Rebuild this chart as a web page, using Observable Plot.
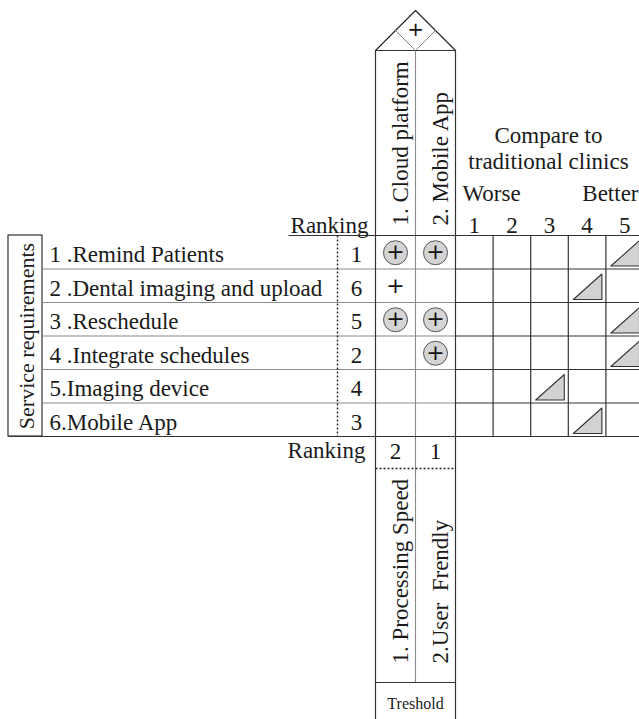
<!DOCTYPE html>
<html>
<head>
<meta charset="utf-8">
<script src="https://cdn.jsdelivr.net/npm/d3@7"></script>
<script src="https://cdn.jsdelivr.net/npm/@observablehq/plot@0.6"></script>
<style>
  html, body { margin: 0; padding: 0; background: #fff; }
  svg { display: block; }
</style>
</head>
<body>
<script>
// ---------------- data ----------------
const requirements = [
  "1 .Remind Patients",
  "2 .Dental imaging and upload",
  "3 .Reschedule",
  "4 .Integrate schedules",
  "5.Imaging device",
  "6.Mobile App"
];
const requirementRanking = [1, 6, 5, 2, 4, 3];
const technicalFeatures = ["1. Cloud platform", "2. Mobile App"];
// "strong" = circled plus, "weak" = plain plus, null = empty
const relationships = [
  ["strong", "strong"],
  ["weak", null],
  ["strong", "strong"],
  [null, "strong"],
  [null, null],
  [null, null]
];
const roofCorrelation = "+";
const comparisonLevels = [1, 2, 3, 4, 5];
const comparisonScores = [5, 4, 5, 5, 3, 4];
const comparisonTitle = ["Compare to", "traditional clinics"];
const comparisonLow = "Worse";
const comparisonHigh = "Better";
const technicalRanking = [2, 1];
const targetValues = ["1. Processing Speed", "2.User  Frendly"];
const sideTitle = "Service requirements";
const rankingLabel = "Ranking";
const footerLabel = "Treshold";

// ---------------- layout ----------------
const W = 639, H = 719;
const FONT = "Liberation Serif";
const FS = 23;
const rowTop = 235, rowH = 33.5, nRows = requirements.length;
const rowBottom = rowTop + rowH * nRows;
const boxL = 8, boxR = 42, textX = 49, dotX = 337, rankX = 356;
const colL = 375, colW = 40;
const colR = colL + colW * technicalFeatures.length;
const cmpW = 37.6;
const roofBase = 50;
const rankBottom = 468, targetBottom = 682;
const mid = 0.32 * FS; // Plot's middle line anchor offset to baseline

const rowTopOf = i => rowTop + i * rowH;
const rowMid = i => rowTop + (i + 0.5) * rowH;
const colMid = j => colL + (j + 0.5) * colW;
const cmpLeft = k => colR + (k - 1) * cmpW;

// line segments
const dark = [], gray = [], dotted = [];
const seg = (a, x1, y1, x2, y2) => a.push({x1, y1, x2, y2});
seg(dark, colL, roofBase, colR, roofBase);
seg(dark, 288, rowTop, W, rowTop);
for (let i = 1; i < nRows; i++) {
  seg(gray, boxR, rowTopOf(i), colR, rowTopOf(i));
  seg(dark, colR, rowTopOf(i), W, rowTopOf(i));
}
seg(dark, boxL, rowBottom, W, rowBottom);
seg(dark, colL, targetBottom, colR, targetBottom);
seg(dark, colL, roofBase, colL, H);
seg(dark, colR, roofBase, colR, H);
seg(gray, colL + colW, roofBase, colL + colW, targetBottom);
comparisonLevels.slice(1).forEach(k => seg(dark, cmpLeft(k), rowTop, cmpLeft(k), rowBottom));
seg(dotted, dotX, rowTop, dotX, rowBottom);
seg(dotted, colL, rankBottom, colR, rankBottom);

// roof
const roofPts = [
  {x: colL, y: roofBase},
  {x: colL + colW, y: roofBase - colW},
  {x: colR, y: roofBase}
];
const diamondPts = [
  {x: colL + colW / 2, y: roofBase - colW / 2},
  {x: colL + colW, y: roofBase},
  {x: colR - colW / 2, y: roofBase - colW / 2}
];

// relationship cells
const relCells = [];
relationships.forEach((row, i) => row.forEach((r, j) => { if (r) relCells.push({i, j, r}); }));

// triangles for comparison
const triPts = [];
comparisonScores.forEach((s, i) => {
  const l = cmpLeft(s), r = l + cmpW, t = rowTopOf(i), b = t + rowH;
  triPts.push({id: i, x: l + 5, y: b - 3}, {id: i, x: r - 4, y: t + 5},
              {id: i, x: r - 4, y: b - 3}, {id: i, x: l + 5, y: b - 3});
});

const txt = {fontFamily: FONT, fontSize: FS, fill: "#1a1a1a"};

const chart = Plot.plot({
  width: W, height: H,
  margin: 0,
  x: {domain: [0, W], range: [0, W], axis: null},
  y: {domain: [0, H], range: [0, H], axis: null},
  style: {fontFamily: FONT, background: "#fff"},
  marks: [
    Plot.rect([{}], {x1: () => boxL, x2: () => boxR, y1: () => rowTop, y2: () => rowBottom,
      fill: "none", stroke: "#333", strokeWidth: 1.2}),
    Plot.link(gray, {x1: "x1", y1: "y1", x2: "x2", y2: "y2", stroke: "#8a8a8a", strokeWidth: 1.1}),
    Plot.link(dark, {x1: "x1", y1: "y1", x2: "x2", y2: "y2", stroke: "#333", strokeWidth: 1.2}),
    Plot.link(dotted, {x1: "x1", y1: "y1", x2: "x2", y2: "y2", stroke: "#222", strokeWidth: 1.4, strokeDasharray: "2,2"}),
    Plot.line(roofPts, {x: "x", y: "y", stroke: "#222", strokeWidth: 1.1}),
    Plot.line(diamondPts, {x: "x", y: "y", stroke: "#888", strokeWidth: 1}),
    Plot.text([roofCorrelation], {x: () => colL + colW, y: () => roofBase - colW / 2 - 1, text: d => d,
      fontFamily: "DejaVu Sans", fontSize: 20, fill: "#111"}),

    // side title
    Plot.text([sideTitle], {x: () => (boxL + boxR) / 2 + 1, y: () => (rowTop + rowBottom) / 2, text: d => d,
      rotate: -90, ...txt, fontSize: 22}),
    // requirement labels
    Plot.text(requirements, {x: () => textX, y: (d, i) => rowMid(i) + 2.8, text: d => d, textAnchor: "start", ...txt}),
    Plot.text(requirementRanking, {x: () => rankX, y: (d, i) => rowMid(i) + 2.8, text: d => String(d), ...txt}),
    Plot.text([rankingLabel], {x: () => colL - 7, y: () => rowTop - 3 - mid, text: d => d, textAnchor: "end", ...txt}),

    // technical features (vertical headers)
    Plot.text(technicalFeatures, {x: (d, j) => colMid(j) + 5, y: () => rowTop - 10, text: d => d,
      rotate: -90, textAnchor: "start", ...txt}),

    // relationships
    Plot.dot(relCells.filter(c => c.r === "strong"), {x: c => colMid(c.j), y: c => rowMid(c.i) + 0.5, r: 12,
      fill: "#d4d4d4", stroke: "#555", strokeWidth: 1}),
    Plot.text(relCells, {x: c => colMid(c.j), y: c => rowMid(c.i), text: () => "+",
      fontFamily: "DejaVu Sans", fontSize: 22, fill: "#111"}),

    // comparison header
    Plot.text(comparisonTitle, {x: () => 548, y: (d, i) => 142 + i * 26 - mid, text: d => d, ...txt}),
    Plot.text([comparisonLow], {x: () => colR + 7, y: () => 200 - mid, text: d => d, textAnchor: "start", ...txt}),
    Plot.text([comparisonHigh], {x: () => W - 1, y: () => 200 - mid, text: d => d, textAnchor: "end", ...txt}),
    Plot.text(comparisonLevels, {x: k => cmpLeft(k) + cmpW / 2, y: () => rowTop - 3 - mid, text: d => String(d), ...txt}),
    Plot.line(triPts, {x: "x", y: "y", z: "id", fill: "#d2d2d2", stroke: "#333", strokeWidth: 1.1}),

    // bottom: technical ranking and targets
    Plot.text([rankingLabel], {x: () => colL - 10, y: () => rowBottom + 21 - mid, text: d => d, textAnchor: "end", ...txt}),
    Plot.text(technicalRanking, {x: (d, j) => colMid(j), y: () => rowBottom + 22 - mid, text: d => String(d), ...txt}),
    Plot.text(targetValues, {x: (d, j) => colMid(j) + 5, y: () => targetBottom - 19, text: d => d,
      rotate: -90, textAnchor: "start", ...txt}),
    Plot.text([footerLabel], {x: () => colL + colW, y: () => 708 - 0.32 * 16, text: d => d, ...txt, fontSize: 16})
  ]
});
document.body.appendChild(chart);
</script>
</body>
</html>
